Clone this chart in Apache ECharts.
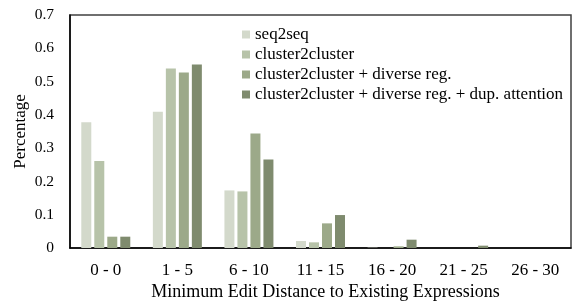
<!DOCTYPE html>
<html>
<head>
<meta charset="utf-8">
<script src="https://cdn.jsdelivr.net/npm/echarts@6/dist/echarts.min.js"></script>
<style>
  html, body { margin: 0; padding: 0; background: #fff; }
  #chart { width: 575px; height: 301px; }
</style>
</head>
<body>
<div id="chart"></div>
<script>
// distance buckets on the x axis
const categories = ['0 - 0', '1 - 5', '6 - 10', '11 - 15', '16 - 20', '21 - 25', '26 - 30']
const seriesNames = [
  'seq2seq',
  'cluster2cluster',
  'cluster2cluster + diverse reg.',
  'cluster2cluster + diverse reg. + dup. attention'
]
const seq2seq = [0.378, 0.409, 0.173, 0.021, 0.001, 0, 0]
const cluster2cluster = [0.261, 0.539, 0.170, 0.017, 0, 0, 0]
const diverseReg = [0.034, 0.527, 0.344, 0.074, 0.005, 0, 0]
const dupAttention = [0.034, 0.551, 0.266, 0.099, 0.025, 0.007, 0]
const yTicks = [0, 0.1, 0.2, 0.3, 0.4, 0.5, 0.6, 0.7]

const colors = ['#d3d9cb', '#b7c3a9', '#9ca989', '#7f8b6e']
const font = '"Liberation Serif", "Times New Roman", serif'

const chart = echarts.init(document.getElementById('chart'))
const allData = [seq2seq, cluster2cluster, diverseReg, dupAttention]

chart.setOption({
  animation: false,
  textStyle: { fontFamily: font },
  grid: {
    left: 70,
    right: 4,
    top: 15,
    bottom: 53,
    outerBoundsMode: 'none',
    containLabel: false,
    show: true,
    borderColor: '#404040',
    borderWidth: 1.5
  },
  legend: {
    orient: 'vertical',
    left: 242,
    top: 26,
    padding: 0,
    itemWidth: 8,
    itemHeight: 8,
    itemGap: 3,
    icon: 'rect',
    data: seriesNames,
    textStyle: { fontFamily: font, fontSize: 17, color: '#000', lineHeight: 17 }
  },
  xAxis: {
    type: 'category',
    data: categories,
    name: 'Minimum Edit Distance to Existing Expressions',
    nameLocation: 'middle',
    nameGap: 35,
    nameMoveOverlap: false,
    nameTextStyle: { fontFamily: font, fontSize: 18, color: '#000', padding: [0, 0, 0, 10] },
    axisTick: { show: false },
    axisLine: { lineStyle: { color: '#000', width: 1.5 } },
    axisLabel: { fontFamily: font, fontSize: 17, color: '#000', margin: 14 }
  },
  yAxis: {
    type: 'value',
    min: 0,
    max: yTicks[yTicks.length - 1],
    interval: 0.1,
    name: 'Percentage',
    nameLocation: 'middle',
    nameGap: 41,
    nameMoveOverlap: false,
    nameTextStyle: { fontFamily: font, fontSize: 17, color: '#000' },
    axisLine: { show: true, lineStyle: { color: '#000', width: 1.5 } },
    axisTick: { show: false },
    splitLine: { show: false },
    axisLabel: {
      fontFamily: font,
      fontSize: 15.5,
      color: '#000',
      margin: 16,
      formatter: v => String(Math.round(v * 10) / 10)
    }
  },
  series: seriesNames.map((name, i) => ({
    name: name,
    type: 'bar',
    data: allData[i],
    barWidth: 10,
    barGap: '30%',
    itemStyle: { color: colors[i] }
  }))
})
</script>
</body>
</html>
